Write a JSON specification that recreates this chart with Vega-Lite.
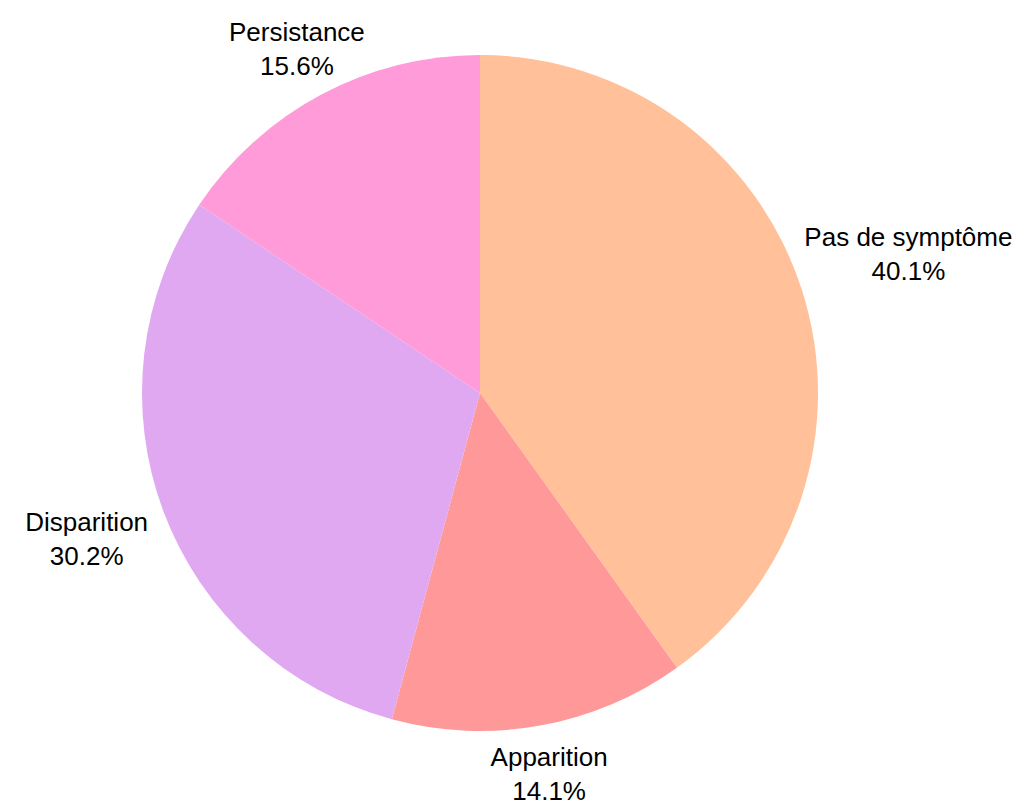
{
  "$schema": "https://vega.github.io/schema/vega-lite/v6.json",
  "autosize": {"type": "none"},
  "width": 960,
  "height": 786,
  "padding": {"left": 0, "top": 0, "right": 61, "bottom": 14},
  "background": "white",
  "config": {"view": {"stroke": null}},
  "data": {
    "values": [
      {"cat": "Pas de symptôme", "pct": 40.1, "ord": 1},
      {"cat": "Apparition", "pct": 14.1, "ord": 2},
      {"cat": "Disparition", "pct": 30.2, "ord": 3},
      {"cat": "Persistance", "pct": 15.6, "ord": 4}
    ]
  },
  "transform": [
    {"calculate": "datum.cat + '\\n' + format(datum.pct, '.1f') + '%'", "as": "label"}
  ],
  "encoding": {
    "theta": {"field": "pct", "type": "quantitative", "stack": true},
    "order": {"field": "ord", "type": "quantitative", "sort": "ascending"}
  },
  "layer": [
    {
      "mark": {"type": "arc", "outerRadius": 338},
      "encoding": {
        "color": {
          "field": "cat",
          "type": "nominal",
          "scale": {
            "domain": ["Pas de symptôme", "Apparition", "Disparition", "Persistance"],
            "range": ["#FFC09A", "#FF9999", "#E0A8F0", "#FF9BD9"]
          },
          "legend": null
        }
      }
    },
    {
      "mark": {"type": "text", "radius": 450, "dy": -17, "font": "Liberation Sans", "fontSize": 26, "lineHeight": 34, "lineBreak": "\n", "align": "center", "baseline": "middle", "color": "#000000"},
      "encoding": {
        "detail": {"field": "cat"},
        "text": {"condition": {"test": "datum.cat === 'Pas de symptôme'", "field": "label"}, "value": ""}
      }
    },
    {
      "mark": {"type": "text", "radius": 388, "dy": -17, "font": "Liberation Sans", "fontSize": 26, "lineHeight": 34, "lineBreak": "\n", "align": "center", "baseline": "middle", "color": "#000000"},
      "encoding": {
        "detail": {"field": "cat"},
        "text": {"condition": {"test": "datum.cat === 'Apparition'", "field": "label"}, "value": ""}
      }
    },
    {
      "mark": {"type": "text", "radius": 420, "dy": -17, "font": "Liberation Sans", "fontSize": 26, "lineHeight": 34, "lineBreak": "\n", "align": "center", "baseline": "middle", "color": "#000000"},
      "encoding": {
        "detail": {"field": "cat"},
        "text": {"condition": {"test": "datum.cat === 'Disparition'", "field": "label"}, "value": ""}
      }
    },
    {
      "mark": {"type": "text", "radius": 389, "dy": -17, "font": "Liberation Sans", "fontSize": 26, "lineHeight": 34, "lineBreak": "\n", "align": "center", "baseline": "middle", "color": "#000000"},
      "encoding": {
        "detail": {"field": "cat"},
        "text": {"condition": {"test": "datum.cat === 'Persistance'", "field": "label"}, "value": ""}
      }
    }
  ]
}
